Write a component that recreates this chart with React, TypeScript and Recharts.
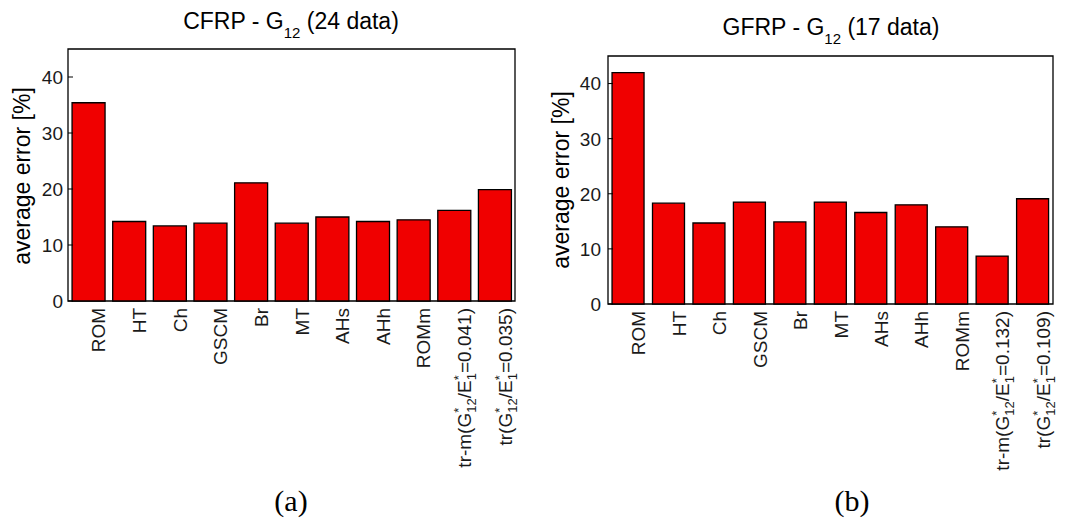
import React from "react";
import { BarChart, Bar, XAxis, YAxis, ReferenceArea } from "recharts";

const FONT = "'Liberation Sans', Arial, sans-serif";

// categories (TeX-ish: ^ superscript, _ subscript)
const cfrpLabels = [
  "ROM",
  "HT",
  "Ch",
  "GSCM",
  "Br",
  "MT",
  "AHs",
  "AHh",
  "ROMm",
  "tr-m(G^*_{12}/E^*_1=0.041)",
  "tr(G^*_{12}/E^*_1=0.035)",
];
const gfrpLabels = [
  "ROM",
  "HT",
  "Ch",
  "GSCM",
  "Br",
  "MT",
  "AHs",
  "AHh",
  "ROMm",
  "tr-m(G^*_{12}/E^*_1=0.132)",
  "tr(G^*_{12}/E^*_1=0.109)",
];

// average error [%]
const cfrpError = [35.4, 14.2, 13.4, 13.9, 21.1, 13.9, 15.0, 14.2, 14.5, 16.2, 19.9];
const gfrpError = [42.0, 18.3, 14.7, 18.5, 14.9, 18.5, 16.6, 18.0, 14.0, 8.7, 19.1];

const yTicks = [0, 10, 20, 30, 40];

function parseLabel(s: string) {
  const re = /(\^\{[^}]*\}|\^.|_\{[^}]*\}|_.|[^_^]+)/g;
  const out: { t: string; k: "n" | "sup" | "sub" }[] = [];
  let m;
  while ((m = re.exec(s))) {
    const tok = m[0];
    if (tok[0] === "^") out.push({ t: tok.slice(1).replace(/[{}]/g, ""), k: "sup" });
    else if (tok[0] === "_") out.push({ t: tok.slice(1).replace(/[{}]/g, ""), k: "sub" });
    else out.push({ t: tok, k: "n" });
  }
  return out;
}

function CatTick(props: any) {
  const { x, y, payload } = props;
  const parts = parseLabel(String(payload.value));
  let cur = 0;
  let prev = "n";
  return (
    <text
      transform={`translate(${x + 17},${y + 7}) rotate(-90)`}
      textAnchor="end"
      fontSize={19}
      fontFamily={FONT}
      fill="#1a1a1a"
    >
      {parts.map((p, i) => {
        const target = p.k === "sup" ? -8 : p.k === "sub" ? 5 : 0;
        const dy = target - cur;
        cur = target;
        const dx = p.k === "sub" && prev === "sup" ? -5 : 0;
        prev = p.k;
        return (
          <tspan key={i} dy={dy} dx={dx} fontSize={p.k === "n" ? 19 : 13}>
            {p.t}
          </tspan>
        );
      })}
    </text>
  );
}

function LeftTick(props: any) {
  const { x, y, payload, gap } = props;
  return (
    <g>
      <text x={x} y={y} dy="0.36em" textAnchor="end" fontSize={19} fontFamily={FONT} fill="#1a1a1a">
        {payload.value}
      </text>
      <line x1={x + gap} x2={x + gap + 5} y1={y} y2={y} stroke="#000" strokeWidth={1} />
    </g>
  );
}

function RightTick(props: any) {
  const { x, y } = props;
  return <line x1={x} x2={x - 5} y1={y} y2={y} stroke="#000" strokeWidth={1} />;
}

function TopTick(props: any) {
  const { x, y } = props;
  return <line x1={x} x2={x} y1={y} y2={y + 5} stroke="#000" strokeWidth={1} />;
}

interface PanelProps {
  labels: string[];
  values: number[];
  left: number;
  margin: { top: number; right: number };
  yWidth: number;
  xHeight: number;
  gap: number;
}

function Panel({ labels, values, left, margin, yWidth, xHeight, gap }: PanelProps) {
  const data = labels.map((name, i) => ({ name, value: values[i] }));
  return (
    <div style={{ position: "absolute", left, top: 0 }}>
      <BarChart
        width={544}
        height={523}
        data={data}
        margin={{ top: margin.top, right: margin.right, left: 0, bottom: 0 }}
        barCategoryGap="10%"
      >
        <XAxis
          xAxisId="b"
          dataKey="name"
          height={xHeight}
          interval={0}
          axisLine={false}
          tickLine={false}
          tickSize={0}
          tickMargin={0}
          tick={(p: any) => <CatTick {...p} />}
        />
        <XAxis
          xAxisId="t"
          dataKey="name"
          orientation="top"
          height={0}
          interval={0}
          axisLine={false}
          tickLine={false}
          tickSize={0}
          tickMargin={0}
          tick={(p: any) => <TopTick {...p} />}
        />
        <YAxis
          yAxisId="l"
          width={yWidth}
          domain={[0, 45]}
          ticks={yTicks}
          axisLine={false}
          tickLine={false}
          tickSize={0}
          tickMargin={gap}
          tick={(p: any) => <LeftTick {...p} gap={gap} />}
        />
        <YAxis
          yAxisId="r"
          orientation="right"
          width={0}
          domain={[0, 45]}
          ticks={yTicks}
          axisLine={false}
          tickLine={false}
          tickSize={0}
          tickMargin={0}
          tick={(p: any) => <RightTick {...p} />}
        />
        <Bar
          xAxisId="b"
          yAxisId="l"
          dataKey="value"
          fill="#f00000"
          stroke="#000"
          strokeWidth={1.3}
          isAnimationActive={false}
        />
        <ReferenceArea
          xAxisId="b"
          yAxisId="l"
          y1={0}
          y2={45}
          fill="none"
          fillOpacity={0}
          stroke="#000"
          strokeWidth={1.3}
          ifOverflow="visible"
        />
      </BarChart>
    </div>
  );
}

export default function App() {
  return (
    <div style={{ position: "absolute", left: 0, top: 0, width: 1088, height: 523, background: "#fff" }}>
      <Panel
        labels={cfrpLabels}
        values={cfrpError}
        left={0}
        margin={{ top: 49, right: 29 }}
        yWidth={68}
        xHeight={222}
        gap={5}
      />
      <Panel
        labels={gfrpLabels}
        values={gfrpError}
        left={544}
        margin={{ top: 56, right: 35 }}
        yWidth={64}
        xHeight={219}
        gap={7}
      />
      <svg
        width={1088}
        height={523}
        style={{ position: "absolute", left: 0, top: 0, pointerEvents: "none" }}
      >
        <text x={291} y={29} textAnchor="middle" fontSize={23} fontFamily={FONT} fill="#000">
          CFRP - G
          <tspan fontSize={15} dy={9}>12</tspan>
          <tspan dy={-9}> (24 data)</tspan>
        </text>
        <text x={831} y={35} textAnchor="middle" fontSize={23} fontFamily={FONT} fill="#000">
          GFRP - G
          <tspan fontSize={15} dy={9}>12</tspan>
          <tspan dy={-9}> (17 data)</tspan>
        </text>
        <text
          transform="translate(30,176) rotate(-90)"
          textAnchor="middle"
          fontSize={23}
          fontFamily={FONT}
          fill="#000"
        >
          average error [%]
        </text>
        <text
          transform="translate(569,180) rotate(-90)"
          textAnchor="middle"
          fontSize={23}
          fontFamily={FONT}
          fill="#000"
        >
          average error [%]
        </text>
        <text x={291} y={511} textAnchor="middle" fontSize={30} fontFamily="'Liberation Serif', 'Times New Roman', serif" fill="#000">
          (a)
        </text>
        <text x={852} y={511} textAnchor="middle" fontSize={30} fontFamily="'Liberation Serif', 'Times New Roman', serif" fill="#000">
          (b)
        </text>
      </svg>
    </div>
  );
}
